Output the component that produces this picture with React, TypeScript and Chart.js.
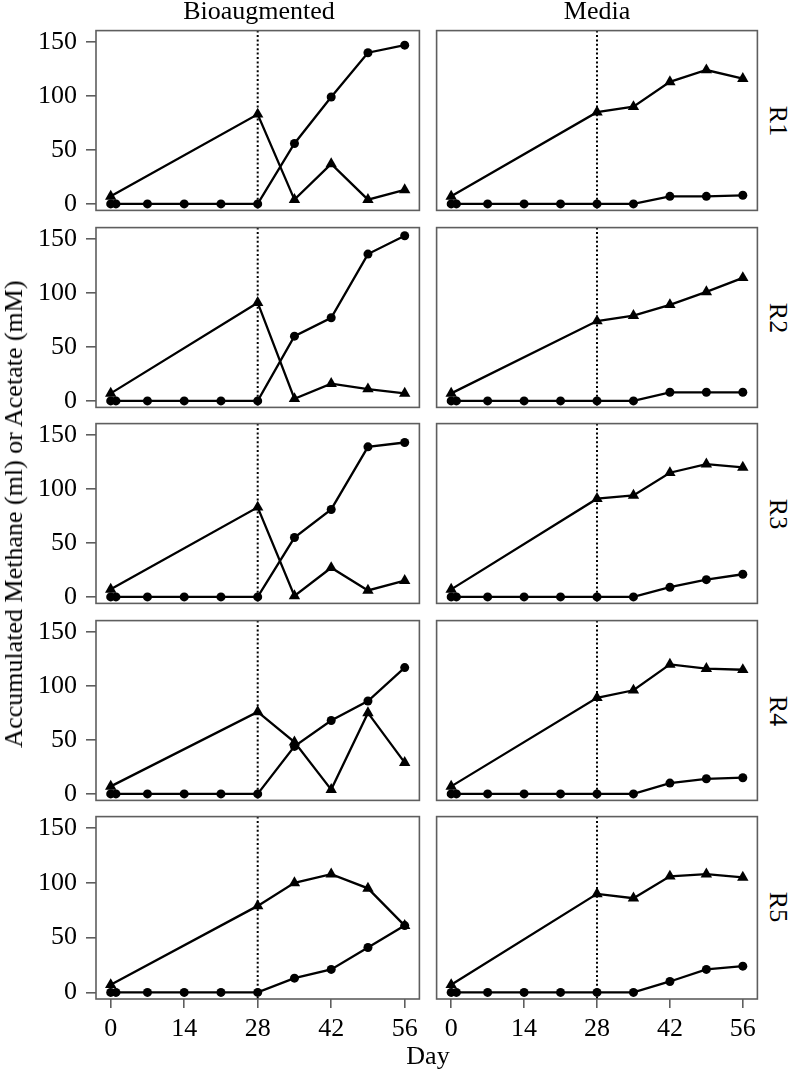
import React, { useEffect, useRef } from 'react';
import { Chart, registerables } from 'chart.js';

Chart.register(...registerables);

// ---------------- data ----------------
const columns = ['Bioaugmented', 'Media'];
const rows = ['R1', 'R2', 'R3', 'R4', 'R5'];
const methaneDays = [0, 1, 7, 14, 21, 28, 35, 42, 49, 56];
const acetateDays = [0, 28, 35, 42, 49, 56];
const xTickValues = [0, 14, 28, 42, 56];
const yTickValues = [0, 50, 100, 150];
const inoculationDay = 28;
const xTitle = 'Day';
const yTitle = 'Accumulated Methane (ml) or Acetate (mM)';

// Bioaugmented: methane (circles)
const bioMethaneR1 = [0, 0, 0, 0, 0, 0, 56, 99, 140, 147];
const bioMethaneR2 = [0, 0, 0, 0, 0, 0, 60, 77, 136, 153];
const bioMethaneR3 = [0, 0, 0, 0, 0, 0, 55, 81, 139, 143];
const bioMethaneR4 = [0, 0, 0, 0, 0, 0, 44, 68, 86, 117];
const bioMethaneR5 = [0, 0, 0, 0, 0, 0, 13, 21, 41, 61];
// Bioaugmented: acetate (triangles)
const bioAcetateR1 = [7, 83, 4, 37, 4, 13];
const bioAcetateR2 = [7, 91, 2, 16, 11, 7];
const bioAcetateR3 = [7, 83, 1, 27, 6, 15];
const bioAcetateR4 = [7, 76, 48, 4, 75, 29];
const bioAcetateR5 = [7, 79, 100, 108, 95, 61];
// Media: methane (circles)
const mediaMethaneR1 = [0, 0, 0, 0, 0, 0, 0, 7, 7, 8];
const mediaMethaneR2 = [0, 0, 0, 0, 0, 0, 0, 8, 8, 8];
const mediaMethaneR3 = [0, 0, 0, 0, 0, 0, 0, 9, 16, 21];
const mediaMethaneR4 = [0, 0, 0, 0, 0, 0, 0, 10, 14, 15];
const mediaMethaneR5 = [0, 0, 0, 0, 0, 0, 0, 10, 21, 24];
// Media: acetate (triangles)
const mediaAcetateR1 = [7, 85, 90, 113, 124, 116];
const mediaAcetateR2 = [7, 74, 79, 89, 101, 114];
const mediaAcetateR3 = [7, 91, 94, 115, 123, 120];
const mediaAcetateR4 = [7, 89, 96, 120, 116, 115];
const mediaAcetateR5 = [7, 90, 86, 106, 108, 105];

const bioMethane = [bioMethaneR1, bioMethaneR2, bioMethaneR3, bioMethaneR4, bioMethaneR5];
const bioAcetate = [bioAcetateR1, bioAcetateR2, bioAcetateR3, bioAcetateR4, bioAcetateR5];
const mediaMethane = [mediaMethaneR1, mediaMethaneR2, mediaMethaneR3, mediaMethaneR4, mediaMethaneR5];
const mediaAcetate = [mediaAcetateR1, mediaAcetateR2, mediaAcetateR3, mediaAcetateR4, mediaAcetateR5];

// ---------------- layout ----------------
const FONT = '"Liberation Serif", "Times New Roman", serif';
const FS = 26;
const PAD = 4;
const Y_AXIS_W = 96;
const X_AXIS_H = 46;
const colLeft = [96, 434];
const colRight = [422, 760];
const rowTop = [28, 225, 421, 618, 814];
const PANEL_H = 185;
const X_MIN = -2.8;
const X_MAX = 58.8;
const Y_MIN = -6;
const Y_MAX = 160.5;

const decorPlugin = {
  id: 'panelDecor',
  beforeDatasetsDraw(chart: any) {
    const { ctx, chartArea: a, scales } = chart;
    const px = scales.x.getPixelForValue(inoculationDay);
    ctx.save();
    ctx.strokeStyle = '#000';
    ctx.lineWidth = 2;
    ctx.setLineDash([2, 2.4]);
    ctx.beginPath();
    ctx.moveTo(px, a.top);
    ctx.lineTo(px, a.bottom);
    ctx.stroke();
    ctx.restore();
  },
  afterDraw(chart: any) {
    const { ctx, chartArea: a } = chart;
    ctx.save();
    ctx.strokeStyle = '#5e5e5e';
    ctx.lineWidth = 1.6;
    ctx.strokeRect(a.left, a.top, a.right - a.left, a.bottom - a.top);
    ctx.restore();
  },
};

type PanelProps = { col: number; row: number; methane: number[]; acetate: number[] };

function Panel({ col, row, methane, acetate }: PanelProps) {
  const ref = useRef<HTMLCanvasElement>(null);
  const showY = col === 0;
  const showX = row === rows.length - 1;
  const left = showY ? 0 : colLeft[col] - PAD;
  const width = colRight[col] + PAD - left;
  const top = rowTop[row] - PAD;
  const height = PANEL_H + PAD + (showX ? X_AXIS_H : PAD);

  useEffect(() => {
    if (!ref.current) return;
    const tickFont = { family: FONT, size: FS };
    const chart = new Chart(ref.current, {
      type: 'line',
      data: {
        datasets: [
          {
            data: methaneDays.map((d, i) => ({ x: d, y: methane[i] })),
            borderColor: '#000',
            backgroundColor: '#000',
            borderWidth: 2.3,
            pointStyle: 'circle',
            pointRadius: 4.5,
            pointBorderWidth: 0,
            tension: 0,
          },
          {
            data: acetateDays.map((d, i) => ({ x: d, y: acetate[i] })),
            borderColor: '#000',
            backgroundColor: '#000',
            borderWidth: 2.3,
            pointStyle: 'triangle',
            pointRadius: 6.6,
            pointBorderWidth: 0,
            tension: 0,
          },
        ],
      },
      options: {
        animation: false,
        responsive: false,
        maintainAspectRatio: false,
        layout: {
          padding: { left: showY ? 0 : PAD, right: PAD, top: PAD, bottom: showX ? 0 : PAD },
        },
        plugins: { legend: { display: false }, tooltip: { enabled: false } },
        scales: {
          x: {
            type: 'linear',
            min: X_MIN,
            max: X_MAX,
            display: showX,
            afterBuildTicks: (s: any) => {
              s.ticks = xTickValues.map((v) => ({ value: v }));
            },
            afterFit: (s: any) => {
              if (!showX) return;
              s.height = X_AXIS_H;
              s.paddingLeft = 0;
              s.paddingRight = 0;
            },
            grid: { drawOnChartArea: false, drawTicks: true, tickLength: 9, color: '#5e5e5e', lineWidth: 1.6 },
            border: { display: false },
            ticks: { font: tickFont, color: '#000', padding: 6, maxRotation: 0, autoSkip: false },
          },
          y: {
            type: 'linear',
            min: Y_MIN,
            max: Y_MAX,
            display: showY,
            afterBuildTicks: (s: any) => {
              s.ticks = yTickValues.map((v) => ({ value: v }));
            },
            afterFit: (s: any) => {
              if (!showY) return;
              s.width = Y_AXIS_W;
              s.paddingTop = 0;
              s.paddingBottom = 0;
            },
            grid: { drawOnChartArea: false, drawTicks: true, tickLength: 10, color: '#5e5e5e', lineWidth: 1.6 },
            border: { display: false },
            ticks: { font: tickFont, color: '#000', padding: 9, autoSkip: false },
          },
        },
      },
      plugins: [decorPlugin],
    } as any);
    return () => chart.destroy();
  }, [col, row, methane, acetate]);

  return (
    <canvas
      ref={ref}
      width={width}
      height={height}
      style={{ position: 'absolute', left, top, width, height }}
    />
  );
}

const textBase: React.CSSProperties = {
  position: 'absolute',
  fontFamily: FONT,
  fontSize: FS,
  lineHeight: `${FS}px`,
  color: '#000',
  whiteSpace: 'nowrap',
};

function Label({ x, y, text, rotate = 0 }: { x: number; y: number; text: string; rotate?: number }) {
  return (
    <div
      style={{
        ...textBase,
        left: x,
        top: y,
        transform: `translate(-50%, -50%) rotate(${rotate}deg)`,
      }}
    >
      {text}
    </div>
  );
}

export default function App() {
  const panels: React.ReactNode[] = [];
  rows.forEach((_, r) => {
    panels.push(<Panel key={`b${r}`} col={0} row={r} methane={bioMethane[r]} acetate={bioAcetate[r]} />);
    panels.push(<Panel key={`m${r}`} col={1} row={r} methane={mediaMethane[r]} acetate={mediaAcetate[r]} />);
  });
  return (
    <div
      style={{
        position: 'absolute',
        left: 0,
        top: 0,
        width: 788,
        height: 1070,
        background: '#fff',
        overflow: 'hidden',
      }}
    >
      {panels}
      {columns.map((c, i) => (
        <Label key={c} x={(colLeft[i] + colRight[i]) / 2} y={11} text={c} />
      ))}
      {rows.map((rname, r) => (
        <Label key={rname} x={778} y={rowTop[r] + PANEL_H / 2} text={rname} rotate={90} />
      ))}
      <Label x={(colLeft[0] + colRight[1]) / 2} y={1056} text={xTitle} />
      <Label x={14} y={(rowTop[0] + rowTop[4] + PANEL_H) / 2} text={yTitle} rotate={-90} />
    </div>
  );
}
